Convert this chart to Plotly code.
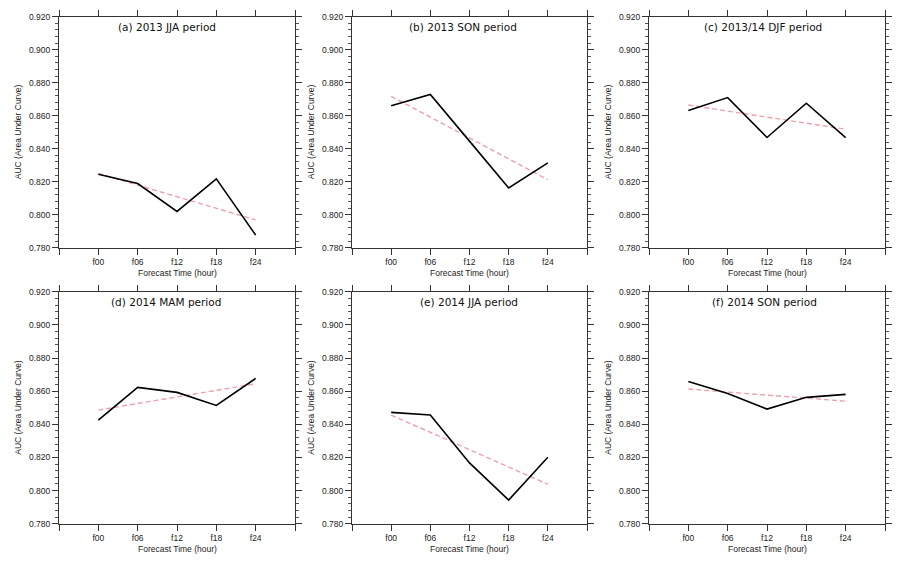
import plotly.graph_objects as go

W, H = 901, 567

categories = ["f00", "f06", "f12", "f18", "f24"]
panel_titles = ["(a) 2013 JJA period", "(b) 2013 SON period", "(c) 2013/14 DJF period",
                "(d) 2014 MAM period", "(e) 2014 JJA period", "(f) 2014 SON period"]

auc_a = [0.8245, 0.8189, 0.8020, 0.8217, 0.7876]
auc_b = [0.8660, 0.8729, 0.8446, 0.8162, 0.8314]
auc_c = [0.8632, 0.8710, 0.8468, 0.8676, 0.8467]
auc_d = [0.8425, 0.8623, 0.8593, 0.8514, 0.8677]
auc_e = [0.8472, 0.8456, 0.8167, 0.7943, 0.8201]
auc_f = [0.8659, 0.8586, 0.8492, 0.8563, 0.8581]

# trend line end values (at f00 and f24)
trend_start = [0.8250, 0.8718, 0.8665, 0.8486, 0.8456, 0.8613]
trend_end = [0.7968, 0.8212, 0.8518, 0.8645, 0.8038, 0.8540]

y_ticks = [0.780, 0.800, 0.820, 0.840, 0.860, 0.880, 0.900, 0.920]

series = [auc_a, auc_b, auc_c, auc_d, auc_e, auc_f]

# plot boxes in pixels (left, right, top, bottom)
col_px = [(59, 295), (352, 587), (649, 885)]
row_px = [(12, 247), (292, 528)]
title_dx = [-10, -7, -4, -11, -1, -3]

fig = go.Figure()
annotations = []
tick_font = dict(family="Liberation Sans, Arial, sans-serif", size=8.5, color="#222")

xpos = list(range(len(categories)))
xtickvals = [-1] + xpos + [len(categories)]
xticktext = [""] + categories + [""]

for i, vals in enumerate(series):
    r, c = divmod(i, 3)
    l, rr = col_px[c]
    t, b = row_px[r]
    xa = "xaxis" if i == 0 else f"xaxis{i+1}"
    ya = "yaxis" if i == 0 else f"yaxis{i+1}"
    xref = "x" if i == 0 else f"x{i+1}"
    yref = "y" if i == 0 else f"y{i+1}"

    fig.add_trace(go.Scatter(x=[xpos[0], xpos[-1]], y=[trend_start[i], trend_end[i]],
                             mode="lines", line=dict(color="#eda2ab", width=1.4, dash="5px,3px"),
                             xaxis=xref, yaxis=yref, showlegend=False, hoverinfo="skip"))
    fig.add_trace(go.Scatter(x=xpos, y=vals, mode="lines",
                             line=dict(color="black", width=1.6),
                             xaxis=xref, yaxis=yref, showlegend=False))

    fig.layout[xa] = dict(domain=[l / W, rr / W], range=[-1, len(categories)],
                          anchor=yref, tickvals=xtickvals, ticktext=xticktext,
                          ticks="outside", ticklen=6, tickwidth=1, tickcolor="#333",
                          showline=True, linecolor="#333", linewidth=1, mirror="ticks",
                          showgrid=False, zeroline=False, tickfont=tick_font, fixedrange=True)
    fig.layout[ya] = dict(domain=[1 - b / H, 1 - t / H], range=[0.780, 0.920],
                          anchor=xref, tickvals=y_ticks, tickformat=".3f",
                          ticks="outside", ticklen=6, tickwidth=1, tickcolor="#333",
                          minor=dict(dtick=0.004, tick0=0.78, ticks="outside", ticklen=3,
                                     tickcolor="#555", showgrid=False),
                          showline=True, linecolor="#333", linewidth=1, mirror="ticks",
                          showgrid=False, zeroline=False, tickfont=tick_font, fixedrange=True)

    cx = (l + rr) / 2 + title_dx[i]
    annotations.append(dict(text=panel_titles[i], x=cx / W, y=1 - (t + 10) / H,
                            xref="paper", yref="paper", showarrow=False,
                            xanchor="center", yanchor="middle",
                            font=dict(family="DejaVu Sans, Verdana, sans-serif", size=10.5, color="#111")))
    annotations.append(dict(text="Forecast Time (hour)", x=(l + rr) / 2 / W, y=1 - (b + 26) / H,
                            xref="paper", yref="paper", showarrow=False,
                            xanchor="center", yanchor="middle",
                            font=dict(family="Liberation Sans, Arial, sans-serif", size=8.5, color="#222")))
    annotations.append(dict(text="AUC (Area Under Curve)", x=(l - 41) / W, y=1 - (t + b) / 2 / H,
                            xref="paper", yref="paper", showarrow=False, textangle=-90,
                            xanchor="center", yanchor="middle",
                            font=dict(family="Liberation Sans, Arial, sans-serif", size=8.5, color="#222")))

fig.update_layout(width=W, height=H, margin=dict(l=0, r=0, t=0, b=0),
                  paper_bgcolor="white", plot_bgcolor="white",
                  annotations=annotations, showlegend=False)

fig.write_html("out.html", config={"displayModeBar": False},
               post_script="document.body.style.margin='0';document.body.style.overflow='hidden';")
